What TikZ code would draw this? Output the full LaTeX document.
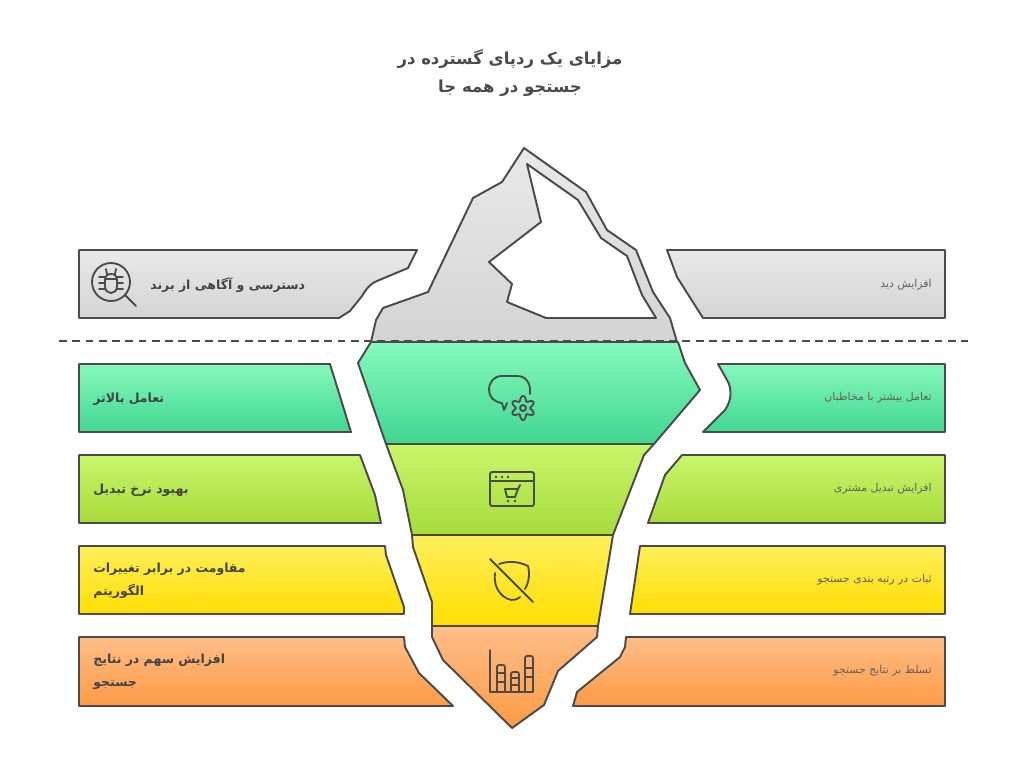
\documentclass[tikz,border=0pt]{standalone}
\usepackage{fontspec}
\newfontfamily\arabicfont[Script=Arabic]{DejaVu Sans}
\TeXXeTstate=1
\definecolor{linecol}{HTML}{4A4A4A}
\definecolor{graytop}{HTML}{E9E9E9}
\definecolor{graybot}{HTML}{D4D4D4}
\definecolor{greentop}{HTML}{86F9BC}
\definecolor{greenbot}{HTML}{41D690}
\definecolor{limetop}{HTML}{C9F66C}
\definecolor{limebot}{HTML}{A7DC3B}
\definecolor{yellowtop}{HTML}{FFEE5C}
\definecolor{yellowbot}{HTML}{FFDF00}
\definecolor{orangetop}{HTML}{FFBE88}
\definecolor{orangebot}{HTML}{FD9A45}
\tikzset{
    band/.style={draw=linecol, line width=1.1pt, line join=round},
    grayband/.style={band, top color=graytop, bottom color=graybot},
    greenband/.style={band, top color=greentop, bottom color=greenbot},
    limeband/.style={band, top color=limetop, bottom color=limebot},
    yellowband/.style={band, top color=yellowtop, bottom color=yellowbot},
    orangeband/.style={band, top color=orangetop, bottom color=orangebot},
    icon/.style={draw=linecol, line width=1.05pt, line cap=round, line join=round},
    titletext/.style={font=\arabicfont\bfseries\fontsize{9.4}{16.4}\selectfont, text=linecol, align=center},
    lefttext/.style={font=\arabicfont\bfseries\fontsize{7.1}{13.4}\selectfont, text=linecol!90!black, anchor=west, align=left, inner sep=0pt},
    righttext/.style={font=\arabicfont\fontsize{6.2}{8}\selectfont, text=black!62, anchor=east, inner sep=0pt}
}
\begin{document}
\begin{tikzpicture}[x=0.02cm, y=-0.02cm]
    \useasboundingbox (0,0) rectangle (1024,771);

    % Iceberg:
    \draw[grayband] (371,342) -- (376,320) -- (383,308) -- (428,292) -- (473,198) -- (502,182) -- (524,148)
        -- (586,192) -- (607,230) -- (636,250) -- (653,292) -- (670,318) -- (677,342) -- cycle;
    \draw[band, fill=white] (527,164) -- (578,200) -- (601,238) -- (627,256) -- (642,295) -- (656,318)
        -- (546,318) -- (507,302) -- (512,284) -- (489,262) -- (541,222) -- cycle;
    \draw[greenband] (371,342) -- (358,363) -- (386,444) -- (654,444) -- (700,390) -- (685,363) -- (678,342) -- cycle;
    \draw[limeband] (386,444) -- (403,490) -- (412,535) -- (613,535) -- (644,455) -- (654,444) -- cycle;
    \draw[yellowband] (412,535) -- (413,547) -- (432,602) -- (432,626) -- (598,626) -- (613,535) -- cycle;
    \draw[orangeband] (432,626) -- (432,637) -- (443,660) -- (512,728) -- (544,705) -- (558,671) -- (597,637) -- (598,626) -- cycle;

    % Waterline:
    \draw[linecol, line width=0.8pt, dash pattern=on 4.5pt off 3.05pt] (59,341) -- (968,341);

    % Left side:
    \draw[grayband] (79,250) -- (417,250) -- (408,268) -- (377,281) .. controls (368,285) and (366,290) .. (362,296) -- (350,311) -- (339,318) -- (79,318) -- cycle;
    \draw[greenband] (79,364) -- (330,364) -- (351,432) -- (79,432) -- cycle;
    \draw[limeband] (79,455) -- (360,455) -- (375,495) -- (381,523) -- (79,523) -- cycle;
    \draw[yellowband] (79,546) -- (385,546) -- (386,555) -- (404,607) -- (404,614) -- (79,614) -- cycle;
    \draw[orangeband] (79,637) -- (404,637) -- (405,647) -- (419,673) -- (453,706) -- (79,706) -- cycle;

    % Right side:
    \draw[grayband] (667,250) -- (945,250) -- (945,318) -- (703,318) -- (677,277) -- cycle;
    \draw[greenband] (718,364) -- (945,364) -- (945,432) -- (703,432) -- (725,410) .. controls (732,400) and (732,388) .. (727,380) -- cycle;
    \draw[limeband] (682,455) -- (945,455) -- (945,523) -- (648,523) -- (665,475) -- cycle;
    \draw[yellowband] (640,546) -- (945,546) -- (945,614) -- (630,614) -- cycle;
    \draw[orangeband] (626,637) -- (945,637) -- (945,706) -- (573,706) -- (577,692) -- (620,657) -- (625,647) -- cycle;

    % Title and labels:
    \node[titletext] (title) at (510,73) {\beginR مزایای یک ردپای گسترده در\endR\\\beginR جستجو در همه جا\endR};

    \node[lefttext] (leftgray) at (150,285) {\beginR دسترسی و آگاهی از برند\endR};
    \node[lefttext] (leftgreen) at (93,399) {\beginR تعامل بالاتر\endR};
    \node[lefttext] (leftlime) at (93,490) {\beginR بهبود نرخ تبدیل\endR};
    \node[lefttext] (leftyellow) at (93,581) {\beginR مقاومت در برابر تغییرات\endR\\\beginR الگوریتم\endR};
    \node[lefttext] (leftorange) at (93,672) {\beginR افزایش سهم در نتایج\endR\\\beginR جستجو\endR};

    \node[righttext] (rightgray) at (932,285) {\beginR افزایش دید\endR};
    \node[righttext] (rightgreen) at (932,398) {\beginR تعامل بیشتر با مخاطبان\endR};
    \node[righttext] (rightlime) at (932,489) {\beginR افزایش تبدیل مشتری\endR};
    \node[righttext] (rightyellow) at (932,580) {\beginR ثبات در رتبه بندی جستجو\endR};
    \node[righttext] (rightorange) at (932,671) {\beginR تسلط بر نتایج جستجو\endR};

    % Bug icon:
    \draw[icon] (111,282) circle (19);
    \draw[icon] (125,295) -- (136,306);
    \draw[icon] (105,281) .. controls (105,276) and (107,274) .. (111,274) .. controls (115,274) and (117,276) .. (117,281)
        -- (117,286) .. controls (117,291) and (114,293) .. (111,293) .. controls (108,293) and (105,291) .. (105,286) -- cycle;
    \draw[icon] (105,279) -- (117,279);
    \draw[icon] (107,274) -- (106,269) (115,274) -- (116,269);
    \foreach \legy in {277,283,289}{
        \draw[icon] (105,\legy) -- (99,\legy);
        \draw[icon] (117,\legy) -- (123,\legy);
    }

    % Speech bubble and gear:
    \draw[icon] (530,394) .. controls (531,383) and (526,376) .. (517,376) -- (502,376)
        .. controls (494,376) and (489,382) .. (489,390) .. controls (489,397) and (494,402) .. (502,403)
        -- (504,410) -- (507,403);
    \draw[icon, domain=0:360, samples=145, smooth] plot ({523+(9.6+2.4*cos(6*(\x-90)))*cos(\x)}, {408+(9.6+2.4*cos(6*(\x-90)))*sin(\x)}) -- cycle;
    \draw[icon] (523,408) circle (3);

    % Browser and cart:
    \draw[icon, rounded corners=1.2pt] (490,472) rectangle (534,506);
    \draw[icon] (490,481) -- (534,481);
    \foreach \dotx in {496,502,508}{
        \fill[linecol] (\dotx,477) circle (1.4);
    }
    \draw[icon] (520,485) -- (518,489) -- (515,497) -- (507,497) -- (505,489) -- (518,489);
    \fill[linecol] (508,501) circle (1.4) (515,501) circle (1.4);

    % Shield with slash:
    \draw[icon] (490,559) -- (533,602);
    \draw[icon] (499,564) .. controls (508,561) and (518,561) .. (528,566) .. controls (530,574) and (529,582) .. (525,589);
    \draw[icon] (520,597) .. controls (514,602) and (508,600) .. (503,596) .. controls (496,590) and (494,582) .. (495,573);

    % Bars:
    \draw[icon] (490,650) -- (490,692) -- (533,692);
    \draw[icon, rounded corners=1.2pt] (497,692) -- (497,665) -- (505,665) -- (505,692);
    \draw[icon] (497,673) -- (505,673) (497,682) -- (505,682);
    \draw[icon, rounded corners=1.2pt] (511,692) -- (511,672) -- (519,672) -- (519,692);
    \draw[icon] (511,678) -- (519,678) (511,685) -- (519,685);
    \draw[icon, rounded corners=1.2pt] (525,692) -- (525,656) -- (533,656) -- (533,692);
    \draw[icon] (525,668) -- (533,668) (525,677) -- (533,677);
\end{tikzpicture}
\end{document}
